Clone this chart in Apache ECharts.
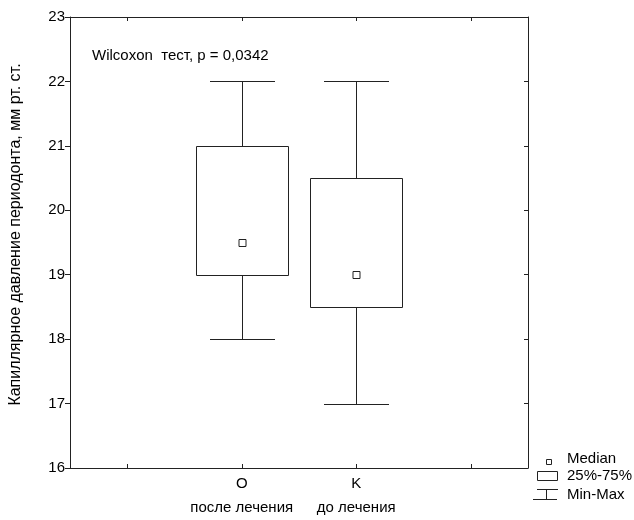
<!DOCTYPE html>
<html><head><meta charset="utf-8">
<script src="https://cdn.jsdelivr.net/npm/echarts@6/dist/echarts.min.js"></script>
<style>html,body{margin:0;padding:0;background:#fff}#c{width:634px;height:520px}</style>
</head><body><div id="c"></div>
<script>
const groups = ['O', 'K'];
const groupNotes = ['после лечения', 'до лечения'];
const minValues = [18, 17];
const q1Values = [19, 18.5];
const medianValues = [19.5, 19];
const q3Values = [21, 20.5];
const maxValues = [22, 22];
const yMin = 16, yMax = 23, yStep = 1;
const yTitle = 'Капиллярное давление периодонта, мм рт. ст.';
const testNote = 'Wilcoxon  тест, p = 0,0342';
const legendLabels = ['Median', '25%-75%', 'Min-Max'];

const FONT = '"Liberation Sans", Arial, sans-serif';
const LINE = '#222';
const categories = [''].concat(groups, ['']);
const notesByCat = {};
groups.forEach((g, i) => { notesByCat[g] = groupNotes[i]; });
const boxData = groups.map((g, i) => [i + 1, minValues[i], q1Values[i], medianValues[i], q3Values[i], maxValues[i]]);

function renderItem(params, api) {
  const x = api.value(0);
  const band = api.size([1, 0])[0];
  const bw = Math.round(band * 0.8), cw = Math.round(band * 0.57);
  const pMin = api.coord([x, api.value(1)]);
  const pQ1 = api.coord([x, api.value(2)]);
  const pMed = api.coord([x, api.value(3)]);
  const pQ3 = api.coord([x, api.value(4)]);
  const pMax = api.coord([x, api.value(5)]);
  const cx = Math.round(pMin[0]) + 0.5;
  const r = v => Math.round(v) + 0.5;
  const st = { stroke: LINE, lineWidth: 1, fill: null };
  return {
    type: 'group',
    children: [
      { type: 'line', shape: { x1: cx, y1: r(pMax[1]), x2: cx, y2: r(pQ3[1]) }, style: st },
      { type: 'line', shape: { x1: cx, y1: r(pQ1[1]), x2: cx, y2: r(pMin[1]) }, style: st },
      { type: 'line', shape: { x1: cx - cw / 2, y1: r(pMax[1]), x2: cx + cw / 2, y2: r(pMax[1]) }, style: st },
      { type: 'line', shape: { x1: cx - cw / 2, y1: r(pMin[1]), x2: cx + cw / 2, y2: r(pMin[1]) }, style: st },
      { type: 'rect', shape: { x: cx - bw / 2, y: r(pQ3[1]), width: bw, height: Math.round(pQ1[1] - pQ3[1]) }, style: { stroke: LINE, lineWidth: 1, fill: '#fff' } },
      { type: 'rect', shape: { x: cx - 3.5, y: r(pMed[1]) - 4, width: 7, height: 7 }, style: { stroke: LINE, lineWidth: 1, fill: '#fff' } }
    ]
  };
}

const axisLineStyle = { show: true, lineStyle: { color: LINE, width: 1 } };
const chart = echarts.init(document.getElementById('c'), null, { renderer: 'canvas' });
chart.setOption({
  animation: false,
  backgroundColor: '#fff',
  textStyle: { fontFamily: FONT },
  grid: { left: 70, right: 106, top: 17, bottom: 48, containLabel: false },
  xAxis: [
    {
      type: 'category', data: categories, position: 'bottom', boundaryGap: true,
      axisLine: axisLineStyle,
      axisTick: { show: true, inside: true, alignWithLabel: true, interval: 0, length: 4, lineStyle: { color: LINE } },
      axisLabel: {
        interval: 0, margin: 4, fontSize: 15, lineHeight: 24, color: '#000', fontFamily: FONT,
        formatter: v => v ? v + '\n' + notesByCat[v] : ''
      },
      splitLine: { show: false }
    },
    {
      type: 'category', data: categories, position: 'top', boundaryGap: true,
      axisLine: axisLineStyle,
      axisTick: { show: true, inside: true, alignWithLabel: true, interval: 0, length: 4, lineStyle: { color: LINE } },
      axisLabel: { show: false },
      splitLine: { show: false }
    }
  ],
  yAxis: [
    {
      type: 'value', min: yMin, max: yMax, interval: yStep, position: 'left',
      axisLine: axisLineStyle,
      axisTick: { show: true, inside: false, length: 5, lineStyle: { color: LINE } },
      axisLabel: { margin: 5, fontSize: 15, color: '#000', fontFamily: FONT },
      splitLine: { show: false },
      name: yTitle, nameLocation: 'middle', nameGap: 46,
      nameTextStyle: { fontSize: 16, color: '#000', fontFamily: FONT, padding: [0, 0, 0, 16] }
    },
    {
      type: 'value', min: yMin, max: yMax, interval: yStep, position: 'right',
      axisLine: axisLineStyle,
      axisTick: { show: true, inside: true, length: 4, lineStyle: { color: LINE } },
      axisLabel: { show: false },
      splitLine: { show: false }
    }
  ],
  graphic: [
    { type: 'text', left: 92, top: 48, style: { text: testNote, fill: '#000', font: '15px ' + FONT } },
    { type: 'rect', shape: { x: 546.5, y: 459.5, width: 5, height: 5 }, style: { stroke: LINE, fill: '#fff', lineWidth: 1 } },
    { type: 'text', x: 567, y: 459, style: { text: legendLabels[0], font: '15px ' + FONT, fill: '#000', verticalAlign: 'middle' } },
    { type: 'rect', shape: { x: 537.5, y: 471.5, width: 20, height: 9 }, style: { stroke: LINE, fill: '#fff', lineWidth: 1 } },
    { type: 'text', x: 567, y: 476, style: { text: legendLabels[1], font: '15px ' + FONT, fill: '#000', verticalAlign: 'middle' } },
    { type: 'line', shape: { x1: 537, y1: 489.5, x2: 558, y2: 489.5 }, style: { stroke: LINE, lineWidth: 1 } },
    { type: 'line', shape: { x1: 546.5, y1: 489.5, x2: 546.5, y2: 499.5 }, style: { stroke: LINE, lineWidth: 1 } },
    { type: 'line', shape: { x1: 533, y1: 499.5, x2: 557, y2: 499.5 }, style: { stroke: LINE, lineWidth: 1 } },
    { type: 'text', x: 567, y: 495, style: { text: legendLabels[2], font: '15px ' + FONT, fill: '#000', verticalAlign: 'middle' } }
  ],
  series: [{
    type: 'custom', xAxisIndex: 0, yAxisIndex: 0,
    renderItem: renderItem,
    encode: { x: 0, y: [1, 2, 3, 4, 5] },
    data: boxData,
    clip: false
  }]
});
</script></body></html>
